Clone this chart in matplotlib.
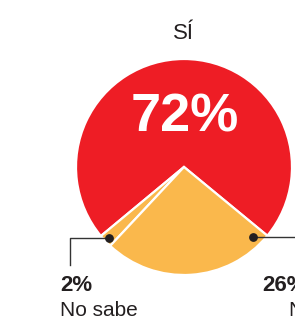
import matplotlib
matplotlib.use('Agg')
import matplotlib.pyplot as plt
import numpy as np
from matplotlib import font_manager

RED, ORANGE, INK, LINE = '#EE1D25', '#FAB84C', '#231F20', '#333333'

labels = ['Sí', 'No sabe', 'No']
values = [72, 2, 26]
colors = [RED, ORANGE, ORANGE]

names = {f.name for f in font_manager.fontManager.ttflist}
NARROW = 'Liberation Sans Narrow' in names
COND = 'Liberation Sans Narrow' if NARROW else 'Liberation Sans'
FS = 18 if NARROW else 15

W, H = 295, 323
fig = plt.figure(figsize=(W / 100, H / 100), dpi=100)
ax = fig.add_axes([0, 0, 1, 1])

CX, CY, R = 184, 323 - 167, 108
START = -39.5
wedges, _ = ax.pie(values, colors=colors, startangle=START, counterclock=True,
                   center=(CX, CY), radius=R,
                   wedgeprops=dict(edgecolor='white', linewidth=1.6))
ax.set_xlim(0, W)
ax.set_ylim(0, H)
ax.set_aspect('auto')
ax.axis('off')

# slice angles
bounds = START + np.cumsum([0] + values) * 3.6


def at(ang, r):
    a = np.deg2rad(ang)
    return CX + r * np.cos(a), CY + r * np.sin(a)


# leader for "No sabe" (mid of 2% slice)
lx, ly = at((bounds[1] + bounds[2]) / 2, R - 5)
ax.plot([lx, 70, 70], [ly, ly, 323 - 265], color=LINE, lw=1.0, zorder=4)
ax.scatter([lx], [ly], s=28, color=INK, zorder=5)

# leader for "No" (near end of 26% slice)
rx, ry = at(bounds[3] - 6, R - 10)
ax.plot([rx, W + 5], [ry, ry], color=LINE, lw=1.0, zorder=4, clip_on=False)
ax.scatter([rx], [ry], s=28, color=INK, zorder=5)

ax.text(CX, 323 - 39, 'SÍ', ha='center', va='baseline', fontsize=16,
        family=COND, color=INK)
ax.text(CX + 1, 323 - 132, '%d%%' % values[0], ha='center', va='baseline',
        fontsize=39, fontweight='bold', family='Liberation Sans', color='white')

ax.text(60, 323 - 291, '%d%%' % values[1], ha='left', va='baseline', fontsize=FS + 1,
        fontweight='bold', family=COND, color=INK)
ax.text(60, 323 - 316, labels[1], ha='left', va='baseline', fontsize=FS,
        family=COND, color=INK)
ax.text(262, 323 - 291, '%d%%' % values[2], ha='left', va='baseline', fontsize=FS + 1,
        fontweight='bold', family=COND, color=INK)
ax.text(288, 323 - 316, labels[2], ha='left', va='baseline', fontsize=FS,
        family=COND, color=INK)

fig.savefig('out.png', dpi=100, facecolor='white')
